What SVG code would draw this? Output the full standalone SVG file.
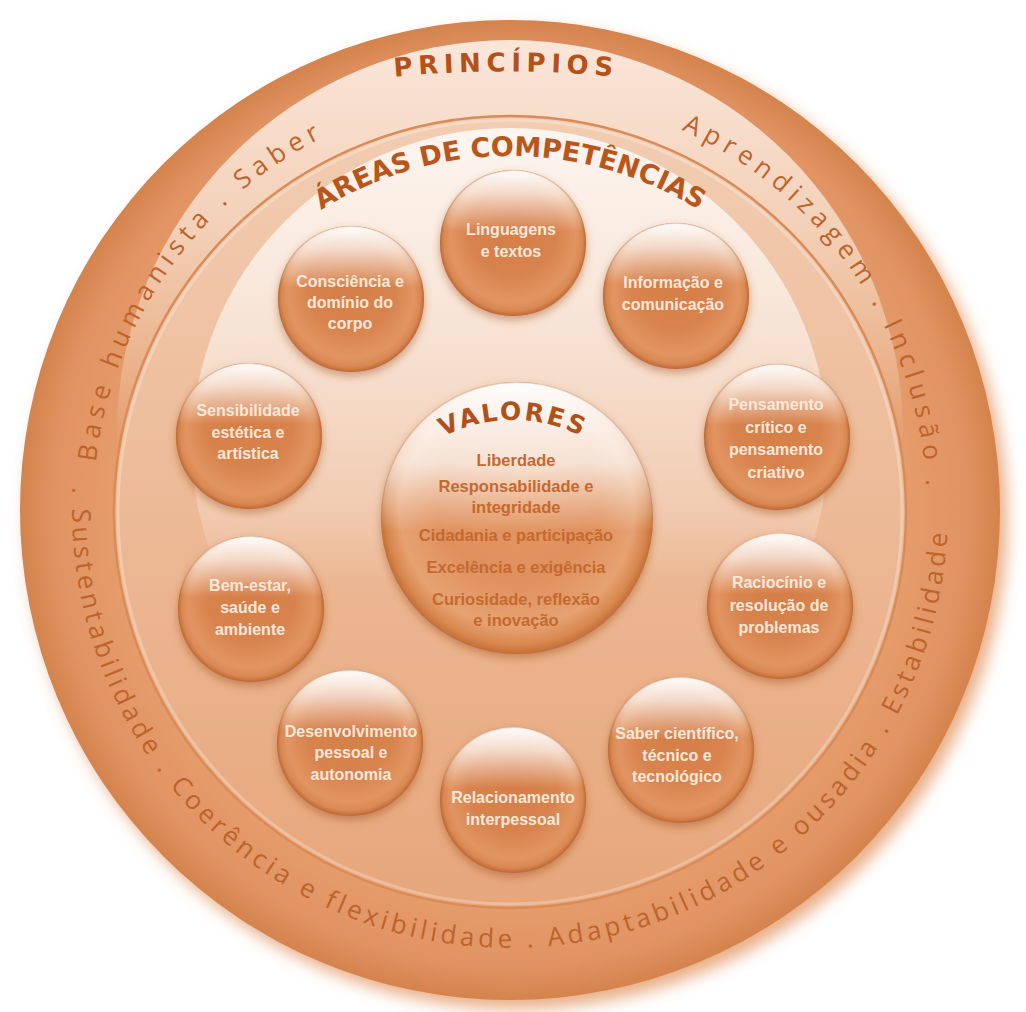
<svg xmlns="http://www.w3.org/2000/svg" width="1026" height="1012" viewBox="0 0 1026 1012">
<defs>
<style>
.pr{font-family:"Open Sans","DejaVu Sans",sans-serif;font-size:26px;fill:#bd632c;letter-spacing:6px}
.prb{font-family:"Open Sans","DejaVu Sans",sans-serif;font-size:26px;fill:#bd632c;letter-spacing:4px}
.ttl{font-family:"DejaVu Sans",Verdana,sans-serif;font-weight:bold}
.ct{font-family:"Liberation Sans",Arial,sans-serif;font-weight:bold;font-size:16px;fill:#fbe8db;text-anchor:middle}
.vt{font-family:"Liberation Sans",Arial,sans-serif;font-weight:bold;font-size:16.5px;fill:#c4692f;text-anchor:middle}
</style>
<filter id="discShadow" x="-10%" y="-10%" width="120%" height="120%"><feGaussianBlur stdDeviation="8"/></filter>
<filter id="sphShadow" x="-20%" y="-20%" width="140%" height="150%"><feDropShadow dx="0" dy="4" stdDeviation="4" flood-color="#9c4a18" flood-opacity="0.45"/></filter>
<radialGradient id="discG" cx="510" cy="510" r="490" gradientUnits="userSpaceOnUse">
<stop offset="0.8" stop-color="#e69c6b"/>
<stop offset="0.93" stop-color="#e19363"/>
<stop offset="1" stop-color="#d4834c"/>
</radialGradient>
<linearGradient id="cresG" x1="0" y1="40" x2="0" y2="460" gradientUnits="userSpaceOnUse">
<stop offset="0" stop-color="#fae6d9"/>
<stop offset="0.45" stop-color="#f3d0b7"/>
<stop offset="0.8" stop-color="#eab088"/>
<stop offset="1" stop-color="#e29765"/>
</linearGradient>
<linearGradient id="innerG" x1="0" y1="116" x2="0" y2="908" gradientUnits="userSpaceOnUse">
<stop offset="0" stop-color="#f2cdb2"/>
<stop offset="1" stop-color="#e7a67b"/>
</linearGradient>
<linearGradient id="innerHi" x1="0" y1="128" x2="0" y2="764" gradientUnits="userSpaceOnUse">
<stop offset="0" stop-color="#ffffff" stop-opacity="0.8"/>
<stop offset="0.3" stop-color="#ffffff" stop-opacity="0.55"/>
<stop offset="0.6" stop-color="#ffffff" stop-opacity="0.25"/>
<stop offset="0.72" stop-color="#ffffff" stop-opacity="0"/>
</linearGradient>
<radialGradient id="sphBase" cx="0.5" cy="0.5" r="0.5" fx="0.5" fy="0.3">
<stop offset="0" stop-color="#d47c46"/>
<stop offset="0.6" stop-color="#d8834e"/>
<stop offset="0.86" stop-color="#e29561"/>
<stop offset="0.95" stop-color="#d98853"/>
<stop offset="1" stop-color="#c06a34"/>
</radialGradient>
<radialGradient id="valBase" cx="0.5" cy="0.5" r="0.5" fx="0.5" fy="0.3">
<stop offset="0" stop-color="#e49b69"/>
<stop offset="0.6" stop-color="#e0905c"/>
<stop offset="0.86" stop-color="#e6a272"/>
<stop offset="0.95" stop-color="#d9884f"/>
<stop offset="1" stop-color="#c46f38"/>
</radialGradient>
<linearGradient id="sphHi" x1="0" y1="0" x2="0" y2="1">
<stop offset="0" stop-color="#ffffff" stop-opacity="0.97"/>
<stop offset="0.16" stop-color="#ffffff" stop-opacity="0.7"/>
<stop offset="0.42" stop-color="#ffffff" stop-opacity="0"/>
</linearGradient>
<linearGradient id="valHi" x1="0" y1="0" x2="0" y2="1">
<stop offset="0" stop-color="#ffffff" stop-opacity="0.98"/>
<stop offset="0.3" stop-color="#ffffff" stop-opacity="0.72"/>
<stop offset="0.55" stop-color="#ffffff" stop-opacity="0"/>
</linearGradient>
<g id="sph">
<circle r="73" fill="url(#sphBase)" filter="url(#sphShadow)"/>
<circle r="73" fill="url(#sphHi)"/>
<circle r="72.5" fill="none" stroke="#c06a34" stroke-width="1.2" opacity="0.3"/>
</g>
<path id="pA" d="M95.8,462.1 A417,417 0 0 1 437.6,99.3"/>
<path id="pB" d="M681.6,129.9 A417,417 0 0 1 920.7,582.4"/>
<path id="pC" d="M72.6,487.1 A438,438 0 1 0 933.1,396.6"/>
<path id="pAreas" d="M236.5,283.5 A357,357 0 0 1 783.5,283.5"/>
<path id="pPrin" d="M306,88.3 A1200,1200 0 0 1 706,88.3"/>
<path id="pVal" d="M404.8,464.8 A153,153 0 0 1 621.2,464.8"/>
</defs>

<rect width="1026" height="1012" fill="#ffffff"/>

<g id="disc">
<circle cx="517" cy="519" r="490" fill="#e39a68" opacity="0.8" filter="url(#discShadow)"/>
<circle cx="510" cy="510" r="490" fill="url(#discG)"/>
<circle cx="510" cy="433" r="393" fill="url(#cresG)"/>
<circle cx="510" cy="512" r="396" fill="url(#innerG)"/>
<circle cx="510" cy="446" r="318" fill="url(#innerHi)"/>
<circle cx="510" cy="512" r="396" fill="none" stroke="#d98c58" stroke-width="2.5"/>
<circle cx="510" cy="512" r="392" fill="none" stroke="#ffffff" stroke-width="3" opacity="0.25"/>
</g>

<g id="principios">
<text class="ttl" font-size="26" fill="#b25219" letter-spacing="5.5" text-anchor="middle"><textPath href="#pPrin" startOffset="50%">PRINCÍPIOS</textPath></text>
<text class="pr"><textPath href="#pA">Base humanista . Saber</textPath></text>
<text class="pr"><textPath href="#pB">Aprendizagem . Inclusão .</textPath></text>
<text class="prb"><textPath href="#pC">. Sustentabilidade . Coerência e flexibilidade . Adaptabilidade e ousadia . Estabilidade</textPath></text>
</g>

<g id="areas-title">
<text class="ttl" font-size="27" fill="#b9561c" text-anchor="middle"><textPath href="#pAreas" startOffset="50%">ÁREAS DE COMPETÊNCIAS</textPath></text>
</g>

<g id="connectors"/>

<g id="node-linguagens">
<use href="#sph" x="513" y="243"/>
<text class="ct" x="511" y="235">Linguagens</text>
<text class="ct" x="511" y="257">e textos</text>
</g>
<g id="node-informacao">
<use href="#sph" x="676" y="296"/>
<text class="ct" x="673" y="288">Informação e</text>
<text class="ct" x="673" y="310">comunicação</text>
</g>
<g id="node-pensamento">
<use href="#sph" x="777" y="437"/>
<text class="ct" x="776" y="410">Pensamento</text>
<text class="ct" x="776" y="433">crítico e</text>
<text class="ct" x="776" y="455">pensamento</text>
<text class="ct" x="776" y="478">criativo</text>
</g>
<g id="node-raciocinio">
<use href="#sph" x="780" y="606"/>
<text class="ct" x="779" y="588">Raciocínio e</text>
<text class="ct" x="779" y="611">resolução de</text>
<text class="ct" x="779" y="633">problemas</text>
</g>
<g id="node-saber">
<use href="#sph" x="681" y="750"/>
<text class="ct" x="677" y="739">Saber científico,</text>
<text class="ct" x="677" y="761">técnico e</text>
<text class="ct" x="677" y="782">tecnológico</text>
</g>
<g id="node-relacionamento">
<use href="#sph" x="513" y="800"/>
<text class="ct" x="513" y="803">Relacionamento</text>
<text class="ct" x="513" y="825">interpessoal</text>
</g>
<g id="node-desenvolvimento">
<use href="#sph" x="350" y="743"/>
<text class="ct" x="351" y="737">Desenvolvimento</text>
<text class="ct" x="351" y="758">pessoal e</text>
<text class="ct" x="351" y="780">autonomia</text>
</g>
<g id="node-bemestar">
<use href="#sph" x="251" y="609"/>
<text class="ct" x="250" y="591">Bem-estar,</text>
<text class="ct" x="250" y="613">saúde e</text>
<text class="ct" x="250" y="635">ambiente</text>
</g>
<g id="node-sensibilidade">
<use href="#sph" x="249" y="436"/>
<text class="ct" x="248" y="416">Sensibilidade</text>
<text class="ct" x="248" y="438">estética e</text>
<text class="ct" x="248" y="459">artística</text>
</g>
<g id="node-consciencia">
<use href="#sph" x="351" y="299"/>
<text class="ct" x="350" y="287">Consciência e</text>
<text class="ct" x="350" y="308">domínio do</text>
<text class="ct" x="350" y="329">corpo</text>
</g>

<g id="node-valores">
<circle cx="517" cy="518" r="136" fill="url(#valBase)" filter="url(#sphShadow)"/>
<circle cx="517" cy="518" r="136" fill="url(#valHi)"/>
<circle cx="517" cy="518" r="135.5" fill="none" stroke="#c46f38" stroke-width="1.2" opacity="0.35"/>
<text class="ttl" font-size="25" fill="#b0501a" letter-spacing="2.5" text-anchor="middle"><textPath href="#pVal" startOffset="50%">VALORES</textPath></text>
<text class="vt" x="516" y="466">Liberdade</text>
<text class="vt" x="516" y="492">Responsabilidade e</text>
<text class="vt" x="516" y="513">integridade</text>
<text class="vt" x="516" y="541">Cidadania e participação</text>
<text class="vt" x="516" y="573">Excelência e exigência</text>
<text class="vt" x="516" y="605">Curiosidade, reflexão</text>
<text class="vt" x="516" y="626">e inovação</text>
</g>
</svg>
